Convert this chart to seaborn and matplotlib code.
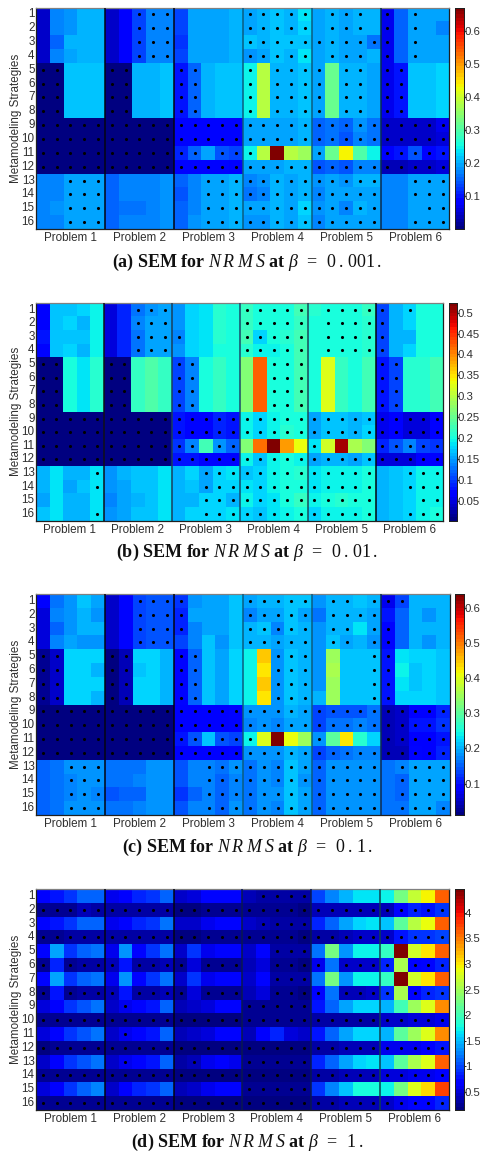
import numpy as np
import matplotlib
matplotlib.use("Agg")
import matplotlib.pyplot as plt
import seaborn as sns

# ---------- labels ----------
problems = ["Problem 1", "Problem 2", "Problem 3", "Problem 4", "Problem 5", "Problem 6"]
strategies = [str(i) for i in range(1, 17)]
ylabel_text = "Metamodeling Strategies"
captions = [r"(a) SEM for $N\,R\,\,M\,S$ at $\beta\;\;=\;\;0\,.\,001\,.$",
            r"(b) SEM for $N\,R\,\,M\,S$ at $\beta\;\;=\;\;0\,.\,01\,.$",
            r"(c) SEM for $N\,R\,\,M\,S$ at $\beta\;\;=\;\;0\,.\,1\,.$",
            r"(d) SEM for $N\,R\,\,M\,S$ at $\beta\;\;=\;\;1\,.$"]

# ---------- values: one table per problem, 16 rows x 5 columns ----------
A1 = [[.05,.17,.185,.2,.2],[.05,.17,.185,.2,.2],[.05,.155,.21,.2,.2],[.05,.175,.19,.2,.2],
      [.006,.006,.22,.22,.22],[.006,.006,.22,.22,.22],[.006,.006,.22,.22,.22],[.006,.006,.22,.22,.22],
      [.002,.002,.002,.002,.002],[.002,.002,.002,.002,.002],[.002,.002,.002,.002,.002],[.002,.002,.002,.002,.002],
      [.175,.175,.19,.19,.19],[.175,.175,.19,.19,.19],[.175,.185,.19,.19,.19],[.175,.175,.19,.19,.19]]
A2 = [[.05,.08,.135,.17,.17],[.05,.08,.135,.17,.17],[.05,.08,.135,.17,.17],[.05,.08,.135,.17,.17],
      [.002,.002,.21,.21,.22],[.002,.002,.21,.21,.22],[.002,.002,.21,.21,.22],[.002,.002,.21,.21,.22],
      [.002,.002,.002,.002,.002],[.002,.002,.002,.002,.002],[.002,.002,.002,.002,.002],[.002,.002,.002,.002,.002],
      [.15,.175,.175,.175,.18],[.15,.175,.175,.175,.18],[.15,.165,.165,.175,.18],[.15,.175,.175,.175,.18]]
A3 = [[.135,.19,.195,.195,.205],[.135,.19,.195,.195,.205],[.125,.19,.195,.195,.205],[.135,.19,.195,.195,.205],
      [.1,.155,.21,.22,.22],[.1,.155,.21,.22,.22],[.1,.155,.21,.22,.22],[.1,.155,.21,.22,.22],
      [.085,.085,.085,.085,.09],[.085,.085,.085,.085,.09],[.11,.15,.19,.145,.135],[.085,.085,.085,.085,.08],
      [.155,.175,.19,.19,.205],[.145,.175,.19,.19,.205],[.155,.175,.19,.19,.205],[.155,.18,.19,.19,.205]]
A4 = [[.19,.2,.215,.205,.235],[.19,.2,.215,.205,.23],[.215,.2,.22,.22,.22],[.185,.195,.215,.205,.235],
      [.25,.387,.21,.21,.22],[.25,.387,.21,.21,.22],[.25,.387,.21,.21,.22],[.25,.387,.21,.21,.22],
      [.19,.19,.19,.195,.21],[.19,.19,.19,.195,.2],[.245,.38,.67,.38,.365],[.19,.19,.195,.2,.21],
      [.175,.185,.2,.195,.205],[.165,.175,.2,.19,.205],[.19,.19,.2,.19,.225],[.185,.185,.2,.195,.215]]
A5 = [[.19,.2,.19,.2,.2],[.19,.2,.19,.2,.2],[.19,.21,.19,.19,.165],[.19,.2,.19,.19,.2],
      [.195,.32,.2,.205,.195],[.195,.32,.2,.205,.195],[.195,.32,.2,.205,.195],[.195,.32,.2,.205,.195],
      [.15,.16,.15,.18,.16],[.15,.165,.145,.175,.165],[.195,.32,.436,.295,.25],[.145,.155,.145,.175,.17],
      [.18,.19,.18,.2,.2],[.17,.19,.19,.19,.195],[.18,.19,.17,.2,.195],[.17,.195,.19,.19,.195]]
A6 = [[.07,.155,.19,.19,.195],[.07,.155,.19,.19,.175],[.07,.155,.19,.19,.19],[.07,.155,.19,.19,.19],
      [.07,.1,.22,.215,.225],[.07,.1,.22,.215,.225],[.07,.1,.22,.215,.225],[.07,.1,.22,.215,.225],
      [.045,.045,.05,.05,.065],[.045,.045,.05,.05,.06],[.075,.1,.14,.09,.1],[.04,.04,.05,.05,.06],
      [.17,.17,.19,.19,.19],[.17,.17,.19,.19,.19],[.17,.17,.19,.19,.19],[.17,.17,.19,.19,.19]]

B1 = [[.067,.171,.171,.18,.19],[.067,.17,.178,.165,.19],[.08,.17,.17,.17,.19],[.075,.17,.18,.165,.19],
      [.002,.002,.198,.187,.21],[.002,.002,.198,.187,.21],[.002,.002,.198,.187,.21],[.002,.002,.198,.187,.21],
      [.002,.002,.002,.002,.002],[.002,.002,.002,.002,.002],[.002,.002,.002,.002,.002],[.002,.002,.002,.002,.002],
      [.165,.184,.158,.158,.187],[.165,.184,.155,.17,.187],[.15,.184,.165,.16,.187],[.168,.184,.158,.158,.187]]
B2 = [[.048,.087,.132,.147,.15],[.05,.087,.135,.15,.15],[.05,.087,.13,.15,.15],[.05,.087,.13,.15,.15],
      [.002,.002,.215,.237,.215],[.002,.002,.215,.237,.215],[.002,.002,.215,.237,.215],[.002,.002,.215,.237,.215],
      [.002,.002,.002,.002,.002],[.002,.002,.002,.002,.002],[.002,.002,.002,.002,.002],[.002,.002,.002,.002,.002],
      [.145,.16,.171,.171,.184],[.145,.15,.171,.171,.184],[.135,.15,.16,.171,.184],[.145,.15,.171,.171,.184]]
B3 = [[.148,.178,.185,.21,.198],[.148,.178,.185,.21,.198],[.14,.178,.185,.21,.198],[.148,.178,.185,.205,.205],
      [.1,.14,.205,.22,.205],[.1,.14,.205,.22,.205],[.1,.14,.205,.22,.205],[.1,.14,.205,.22,.205],
      [.08,.07,.07,.085,.08],[.08,.07,.07,.085,.08],[.095,.14,.224,.145,.12],[.08,.08,.07,.07,.075],
      [.158,.175,.155,.175,.185],[.158,.172,.15,.178,.178],[.158,.16,.175,.178,.16],[.158,.178,.178,.178,.185]]
B4 = [[.218,.198,.198,.205,.23],[.215,.198,.198,.2,.22],[.225,.178,.205,.21,.225],[.21,.195,.195,.2,.225],
      [.263,.42,.198,.205,.225],[.263,.42,.198,.205,.225],[.263,.42,.198,.205,.225],[.263,.42,.198,.205,.225],
      [.19,.175,.195,.2,.2],[.19,.175,.195,.21,.2],[.263,.41,.524,.39,.33],[.19,.17,.195,.205,.195],
      [.17,.175,.19,.2,.21],[.185,.175,.19,.2,.205],[.195,.175,.185,.2,.215],[.175,.17,.185,.195,.205]]
B5 = [[.21,.205,.205,.205,.215],[.205,.198,.205,.205,.21],[.205,.2,.205,.205,.21],[.205,.198,.2,.205,.21],
      [.198,.322,.215,.205,.23],[.198,.322,.215,.205,.23],[.198,.322,.215,.205,.23],[.198,.322,.215,.205,.23],
      [.15,.17,.17,.16,.17],[.15,.17,.17,.16,.175],[.185,.315,.5,.29,.263],[.15,.165,.165,.155,.17],
      [.185,.195,.195,.195,.198],[.185,.195,.195,.195,.198],[.19,.198,.21,.198,.198],[.178,.195,.195,.195,.198]]
B6 = [[.1,.165,.18,.198,.198],[.1,.165,.175,.198,.198],[.1,.165,.158,.198,.198],[.1,.165,.175,.198,.198],
      [.08,.105,.21,.21,.23],[.08,.105,.21,.21,.23],[.08,.105,.21,.21,.23],[.08,.105,.21,.21,.23],
      [.055,.06,.05,.05,.067],[.055,.06,.05,.05,.067],[.085,.115,.14,.105,.095],[.05,.05,.05,.06,.06],
      [.165,.17,.178,.195,.195],[.165,.17,.178,.195,.195],[.165,.17,.178,.195,.195],[.165,.17,.178,.195,.198]]

C1 = [[.085,.16,.187,.21,.195],[.066,.168,.187,.2,.184],[.066,.155,.187,.2,.2],[.066,.176,.19,.18,.185],
      [.025,.06,.22,.22,.22],[.025,.06,.22,.22,.205],[.025,.06,.22,.22,.22],[.025,.06,.22,.22,.205],
      [.015,.015,.018,.018,.018],[.015,.015,.018,.02,.018],[.015,.015,.018,.02,.018],[.015,.015,.018,.02,.018],
      [.155,.16,.184,.184,.184],[.155,.16,.17,.184,.184],[.155,.16,.17,.18,.175],[.155,.16,.185,.185,.18]]
C2 = [[.06,.09,.13,.142,.142],[.06,.09,.13,.142,.142],[.06,.09,.13,.142,.142],[.06,.09,.13,.142,.142],
      [.018,.05,.22,.22,.2],[.018,.05,.21,.22,.2],[.018,.05,.22,.22,.2],[.018,.05,.22,.22,.2],
      [.013,.013,.013,.013,.013],[.013,.013,.013,.013,.013],[.013,.013,.018,.013,.013],[.013,.013,.013,.013,.013],
      [.16,.16,.16,.178,.178],[.16,.16,.175,.178,.178],[.145,.155,.155,.178,.178],[.16,.16,.175,.178,.178]]
C3 = [[.12,.187,.195,.195,.21],[.11,.195,.195,.195,.21],[.11,.175,.195,.195,.21],[.13,.175,.21,.18,.21],
      [.095,.15,.21,.195,.22],[.095,.15,.21,.195,.22],[.095,.15,.21,.195,.22],[.095,.15,.21,.195,.22],
      [.085,.085,.085,.085,.09],[.085,.085,.085,.085,.09],[.1,.14,.215,.145,.135],[.085,.085,.085,.085,.09],
      [.14,.175,.175,.165,.185],[.14,.175,.175,.155,.175],[.125,.155,.175,.155,.175],[.14,.175,.175,.155,.185]]
C4 = [[.195,.2,.2,.215,.21],[.175,.195,.195,.215,.19],[.2,.215,.175,.21,.2],[.205,.2,.19,.2,.205],
      [.246,.45,.18,.21,.205],[.246,.43,.18,.21,.205],[.246,.445,.18,.21,.205],[.246,.43,.18,.21,.205],
      [.18,.18,.18,.2,.19],[.175,.18,.175,.195,.19],[.246,.4,.639,.41,.345],[.18,.18,.185,.2,.195],
      [.16,.185,.175,.21,.195],[.165,.185,.17,.21,.185],[.165,.185,.185,.21,.19],[.165,.185,.17,.21,.19]]
C5 = [[.185,.2,.2,.215,.2],[.165,.2,.2,.2,.19],[.185,.2,.2,.23,.19],[.185,.215,.19,.205,.18],
      [.18,.345,.215,.215,.215],[.18,.36,.215,.215,.215],[.18,.345,.215,.215,.215],[.2,.345,.215,.215,.215],
      [.135,.14,.14,.145,.16],[.13,.16,.16,.175,.165],[.185,.3,.43,.26,.225],[.13,.155,.16,.175,.17],
      [.155,.185,.185,.185,.185],[.155,.185,.185,.185,.185],[.155,.185,.185,.185,.185],[.155,.185,.185,.185,.185]]
C6 = [[.075,.135,.2,.2,.2],[.105,.15,.2,.18,.2],[.09,.15,.2,.2,.2],[.09,.15,.2,.18,.2],
      [.1,.23,.22,.225,.215],[.1,.24,.215,.225,.215],[.1,.23,.21,.225,.215],[.1,.225,.225,.225,.215],
      [.05,.06,.085,.085,.11],[.05,.06,.105,.1,.12],[.05,.06,.085,.08,.105],[.05,.05,.09,.085,.11],
      [.16,.17,.19,.19,.19],[.16,.155,.19,.19,.19],[.16,.155,.19,.19,.19],[.16,.16,.19,.19,.175]]

D1 = [[.63,.8,.9,1.1,1.1],[.25,.25,.25,.4,.3],[.68,.8,.95,1.13,1.13],[.27,.27,.3,.33,.33],
      [.68,1.38,.9,1.1,1.22],[.25,.88,.27,.32,.32],[.68,1.38,.92,1.1,1.22],[.25,.75,.27,.32,.32],
      [.52,.65,.9,1.05,1.2],[.22,.22,.22,.25,.25],[.5,.68,.9,1.05,1.2],[.2,.25,.25,.25,.25],
      [.45,.65,.95,1.07,1.18],[.25,.25,.25,.25,.25],[.5,.65,.95,1.15,1.25],[.25,.25,.25,.25,.25]]
D2 = [[.58,.65,.85,.95,1.15],[.3,.3,.3,.3,.3],[.55,.68,.83,.95,1.18],[.3,.3,.3,.33,.33],
      [.6,1.33,.7,.95,1.18],[.35,.78,.32,.32,.35],[.6,1.33,.7,.95,1.18],[.35,.78,.32,.32,.35],
      [.45,.6,.68,.78,1.1],[.23,.23,.23,.25,.25],[.45,.6,.68,.8,1.1],[.25,.25,.25,.25,.25],
      [.45,.6,.68,.78,1.1],[.22,.22,.22,.22,.22],[.45,.65,.85,.92,1.15],[.25,.25,.25,.25,.25]]
D3 = [[.45,.5,.68,.68,.68],[.2,.2,.25,.25,.25],[.42,.45,.55,.7,.68],[.18,.2,.22,.22,.22],
      [.45,.9,.58,.68,.68],[.25,.52,.25,.25,.25],[.45,.92,.58,.68,.68],[.25,.52,.25,.25,.25],
      [.35,.45,.5,.68,.68],[.18,.2,.2,.2,.2],[.35,.45,.5,.68,.68],[.2,.2,.2,.2,.2],
      [.3,.4,.6,.65,.6],[.2,.2,.2,.2,.2],[.35,.45,.55,.68,.68],[.2,.2,.2,.2,.2]]
D4 = [[.38,.3,.3,.3,.3],[.25,.25,.25,.25,.2],[.45,.35,.3,.3,.3],[.25,.22,.22,.22,.2],
      [.45,.7,.3,.3,.3],[.4,.5,.25,.25,.2],[.45,.7,.3,.3,.3],[.4,.5,.25,.25,.2],
      [.25,.25,.25,.25,.25],[.22,.22,.22,.22,.22],[.4,.65,.85,.5,.45],[.2,.2,.2,.2,.2],
      [.23,.23,.23,.23,.23],[.2,.2,.2,.2,.2],[.27,.27,.27,.27,.27],[.2,.2,.2,.2,.2]]
D5 = [[1.0,1.28,1.46,1.65,1.65],[.38,.38,.38,.38,.4],[.85,1.13,1.38,1.6,1.68],[.32,.32,.35,.42,.42],
      [1.22,2.3,1.35,1.7,1.76],[.6,1.22,.42,.42,.45],[1.22,2.3,1.35,1.7,1.76],[.68,1.22,.38,.38,.42],
      [.75,1.1,1.38,1.62,1.62],[.3,.3,.3,.3,.3],[.75,1.1,1.38,1.62,1.62],[.33,.33,.35,.35,.35],
      [.85,1.13,1.38,1.6,1.68],[.33,.33,.35,.35,.35],[.95,1.25,1.55,1.8,1.8],[.32,.32,.35,.35,.38]]
D6 = [[1.76,2.25,2.67,2.95,3.6],[.4,.68,.85,.8,.95],[1.53,2.15,2.6,2.9,3.6],[.45,.8,.9,.9,1.0],
      [1.95,4.47,2.75,3.0,3.6],[.85,2.57,.65,.7,.85],[1.95,4.47,2.75,3.0,3.6],[.9,2.57,.68,.85,.95],
      [1.46,2.03,2.5,2.84,3.45],[.45,.45,.5,.5,.55],[1.46,2.15,2.5,2.84,3.45],[.55,.55,.6,.62,.8],
      [1.55,2.15,2.55,2.84,3.6],[.5,.5,.58,.6,.65],[1.76,2.3,2.78,3.1,3.75],[.45,.6,.68,.7,.85]]

# ---------- significance dots: x = dot, . = none ----------
M_ALL = "xxxxx xxxxx xxxxx xxxxx xxxxx xxxxx"
MASK_A = [
    "..... ..xxx ..... xxxxx .xxx. x.x..",
    "..... ..xxx ..... xxxxx .xxx. x.x..",
    "..... ..xxx ..... xxxxx xxxxx x.x..",
    "..... ..xxx ..... xxxxx .xxx. x.x..",
    "xx... xx... xx... x.xxx x.xx. xx...",
    "xx... xx... xx... x.xxx x.xx. xx...",
    "xx... xx... xx... x.xxx x.xx. xx...",
    "xx... xx... xx... x.xxx x.xx. xx...",
    M_ALL, M_ALL,
    "xxxxx xxxxx xx.xx x.... x.... xxxxx",
    M_ALL,
    "..xxx ..... ..xxx xxxxx xxxxx ..xxx",
    "..xxx ..... ..xxx xxxxx xxxxx ..xxx",
    "..xxx ..... ..xxx xxxxx xxxxx ...xx",
    "..xxx ..... ..xxx xxxxx xxxxx ..xxx"]
MASK_B = [
    "..... ..xxx ..... xxxxx .xxxx x.x..",
    "..... ..xxx ..... xxxxx .xxxx x....",
    "..... ..xxx x.... xxxxx .xxxx x....",
    "..... ..xxx ..... xxxxx .xxxx x....",
    "xx... xx... xx... ..xxx ..... xx...",
    "xx... xx... xx... ..xxx ..... xx...",
    "xx... xx... xx... ..xxx ..... xx...",
    "xx... xx... xx... ..xxx ..... xx...",
    M_ALL, M_ALL,
    "xxxxx xxxxx xx.xx ..... x.... xxxxx",
    M_ALL,
    "....x ..... ..xxx xxxxx xxxxx ..xxx",
    "....x ..... ..xxx xxxxx xxxxx ..xxx",
    "..... ..... ..xxx xxxxx xxxxx ...xx",
    "....x ..... ..xxx xxxxx xxxxx ..xxx"]
MASK_C = [
    "..... ..xxx x.... xxxxx .xx.x xx...",
    "..... ..xxx x.... xxxxx .xxxx .....",
    "..... ..xxx x.... xxxxx .xx.x x....",
    "..... ..xxx ..... xxxxx .xx.x x....",
    "xx... xx... xx... ..xxx ....x x....",
    "xx... xx... xx... ..xxx ....x x....",
    "xx... xx... xx... ..xxx ....x x....",
    "xx... xx... xx... ..xxx ....x x....",
    M_ALL, M_ALL,
    "xxxxx xxxxx xx.xx x.... x.... xxxxx",
    M_ALL,
    "..xxx ..... ..xxx xxxxx xxxxx .xxxx",
    "..xxx ..... ..xxx xxxxx xxxxx .xxxx",
    "..xxx ..... ..xxx xxxxx xxxxx .xxxx",
    "..xxx ..... ..xxx xxxxx xxxxx .xxxx"]
MASK_D = [
    "..... ..... ..... .xxxx ..... .....",
    M_ALL,
    "..... ..... ..... .xxxx ..... .....",
    M_ALL,
    "..... ..... ..... ..xxx ..... .....",
    "x.xxx x.xxx x.xxx ..xxx x.xxx x.xxx",
    "..... ..... ..... ..xxx ..... .....",
    "x.xxx x.xxx x.xxx ..xxx x.xxx x.xxx",
    "..... .x... ..... xxxxx ..... .....",
    M_ALL,
    "..... .x... ..... ..... ..... .....",
    M_ALL,
    "..... .x... .x... xxxxx ..... .....",
    M_ALL,
    "..... ..... ..... xxxxx ..... .....",
    M_ALL]

# ---------- colour limits and ticks ----------
limits = [(0.001, 0.671), (0.002, 0.524), (0.011, 0.639), (0.138, 4.47)]
cbar_ticks = [[.1, .2, .3, .4, .5, .6],
              [.05, .1, .15, .2, .25, .3, .35, .4, .45, .5],
              [.1, .2, .3, .4, .5, .6],
              [.5, 1, 1.5, 2, 2.5, 3, 3.5, 4]]
cbar_labels = [["0.1", "0.2", "0.3", "0.4", "0.5", "0.6"],
               ["0.05", "0.1", "0.15", "0.2", "0.25", "0.3", "0.35", "0.4", "0.45", "0.5"],
               ["0.1", "0.2", "0.3", "0.4", "0.5", "0.6"],
               ["0.5", "1", "1.5", "2", "2.5", "3", "3.5", "4"]]

# ---------- layout (pixels: left, right, top, bottom; colourbar left, right; caption y) ----------
W, H = 481, 1154
layout = [(36, 449.5, 7.5, 229, 455, 464, 262),
          (36, 443.5, 302.7, 520.7, 449, 457, 552),
          (36, 450, 594, 815, 455, 464, 847),
          (36, 449, 889, 1110, 455, 464, 1142)]
separator_colors = [["#050510", "#050510", "#0b5d80", "#0b5d80", "#0b2a50"],
                    ["#101018", "#1a3f5c", "#1a4a6a", "#1a4a5a", "#050510"],
                    ["#050510", "#050510", "#0b5d80", "#0b5d80", "#102a50"],
                    ["#050510", "#050510", "#0a1a50", "#0a1a50", "#104050"]]

sns.set_theme(style="white")
plt.rcParams["font.family"] = ["Liberation Sans", "DejaVu Sans"]
plt.rcParams["mathtext.fontset"] = "custom"
plt.rcParams["mathtext.rm"] = "Liberation Serif"
plt.rcParams["mathtext.it"] = "Liberation Serif:italic"
plt.rcParams["mathtext.bf"] = "Liberation Serif:bold"

jet64 = plt.get_cmap("jet", 64)
fig = plt.figure(figsize=(W / 100, H / 100), dpi=100)
TXT = "#303030"
FS = 8.4


def rect(l, r, t, b):
    return [l / W, 1 - b / H, (r - l) / W, (b - t) / H]


panels = [([A1, A2, A3, A4, A5, A6], MASK_A), ([B1, B2, B3, B4, B5, B6], MASK_B),
          ([C1, C2, C3, C4, C5, C6], MASK_C), ([D1, D2, D3, D4, D5, D6], MASK_D)]

for i, (tables, mask) in enumerate(panels):
    l, r, t, b, cl, cr, capy = layout[i]
    ax = fig.add_axes(rect(l, r, t, b))
    cax = fig.add_axes(rect(cl, cr, t, b))
    data = np.hstack([np.array(tb) for tb in tables])
    vmin, vmax = limits[i]
    sns.heatmap(data, ax=ax, cbar_ax=cax, cmap=jet64, vmin=vmin, vmax=vmax,
                xticklabels=False, yticklabels=strategies)
    # dots from the mask
    rows = [m.replace(" ", "") for m in mask]
    hits = np.array([[c == "x" for c in row] for row in rows])
    yy, xx = np.nonzero(hits)
    ax.scatter(xx + 0.5, yy + 0.5, s=5.0, c="black", linewidths=0, zorder=3)
    # problem separators
    n = len(problems)
    per = data.shape[1] // n
    for k in range(1, n):
        ax.axvline(k * per, color=separator_colors[i][k - 1], lw=1.1, zorder=4)
    ax.set_xticks([(k + 0.5) * per for k in range(n)])
    ax.set_xticklabels(problems, fontsize=FS, color=TXT)
    ax.tick_params(axis="x", length=0, pad=2.5)
    ax.tick_params(axis="y", length=0, pad=1, labelsize=8.4, labelcolor=TXT, labelrotation=0)
    ax.set_ylabel(ylabel_text, fontsize=FS, color=TXT)
    ax.yaxis.set_label_coords((22.5 - l) / (r - l), 0.5)
    for name, s in ax.spines.items():
        s.set_visible(True)
        s.set_color("#808080" if name == "top" else "#202020")
        s.set_linewidth(0.9)
    cax.set_yticks(cbar_ticks[i])
    cax.set_yticklabels(cbar_labels[i], fontsize=8.2, color=TXT)
    cax.tick_params(axis="y", direction="inout", length=3, width=0.6, pad=-1, right=True, color="black")
    for s in cax.spines.values():
        s.set_visible(True)
        s.set_color("#202020")
        s.set_linewidth(0.7)
    fig.text(247 / W, 1 - capy / H, captions[i], ha="center", va="center",
             fontsize=13, fontweight="bold", family="Liberation Serif", color="#111111")

fig.savefig("out.png", dpi=100, facecolor="white")
